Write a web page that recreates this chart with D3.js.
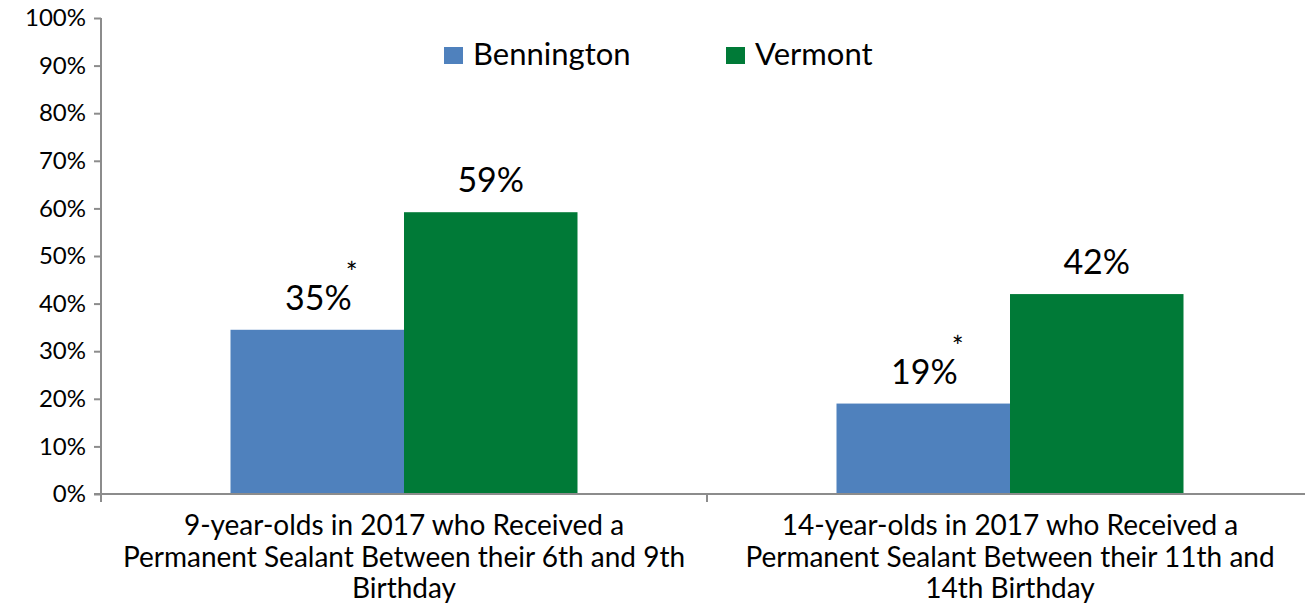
<!DOCTYPE html>
<html>
<head>
<meta charset="utf-8">
<script src="https://cdn.jsdelivr.net/npm/d3@7"></script>
<style>
  body { margin: 0; background: #fff; }
  text { font-family: "Lato", "Noto Sans", sans-serif; fill: #000; }
</style>
</head>
<body>
<svg id="main" width="1305" height="616"></svg>
<script>
const width = 1305;
const height = 616;
const position = { left: 101, top: 18, right: -8, bottom: 122 };
const innerWidth = width - position.left - position.right;
const innerHeight = height - position.top - position.bottom;

const categories = [
    ['9-year-olds in 2017 who Received a', 'Permanent Sealant Between their 6th and 9th', 'Birthday'],
    ['14-year-olds in 2017 who Received a', 'Permanent Sealant Between their 11th and', '14th Birthday']
];
const series = ['Bennington', 'Vermont'];
const colors = ['#4F81BD', '#007A37'];
const bennington = [0.345, 0.19];
const vermont = [0.592, 0.42];
const labels = [['35%', '59%'], ['19%', '42%']];
const asterisk = [[true, false], [true, false]];
const yTicks = [0, 0.1, 0.2, 0.3, 0.4, 0.5, 0.6, 0.7, 0.8, 0.9, 1.0];

const data = categories.map((c, i) => ({
    key: i,
    values: [bennington[i], vermont[i]]
}));

const svg = d3.select('#main');
const mainGroup = svg
    .append('g')
    .attr('transform', `translate(${position.left}, ${position.top})`);

const xScale = d3.scaleBand()
    .domain(data.map(d => d.key))
    .range([0, innerWidth]);

const groupWidth = 347;
const x1 = d3.scaleBand()
    .domain(d3.range(series.length))
    .range([(xScale.bandwidth() - groupWidth) / 2, (xScale.bandwidth() + groupWidth) / 2]);

const yScale = d3.scaleLinear()
    .domain([0, 1])
    .range([innerHeight, 0]);

// y axis
const yAxis = d3.axisLeft(yScale)
    .tickValues(yTicks)
    .tickFormat(d3.format('.0%'))
    .tickSize(7)
    .tickPadding(8);
const yG = mainGroup.append('g').attr('class', 'y-axis').call(yAxis);
yG.select('.domain').attr('stroke', '#8c8c8c').attr('stroke-width', 2).attr('d', `M0,0V${innerHeight}`);
yG.selectAll('.tick line').attr('stroke', '#8c8c8c').attr('stroke-width', 2);
yG.selectAll('.tick text').style('font-size', '24px').attr('fill', '#000');

// bars
const groups = mainGroup.selectAll('.cat')
    .data(data)
    .join('g')
    .attr('class', 'cat')
    .attr('transform', d => `translate(${xScale(d.key)}, 0)`);

groups.selectAll('rect')
    .data(d => d.values.map((v, j) => ({ v, j, i: d.key })))
    .join('rect')
    .attr('x', d => x1(d.j))
    .attr('width', x1.bandwidth())
    .attr('y', d => yScale(d.v))
    .attr('height', d => innerHeight - yScale(d.v))
    .attr('fill', d => colors[d.j]);

// value labels, with a raised asterisk where the reference marks one
const vals = groups.selectAll('.val')
    .data(d => d.values.map((v, j) => ({ v, j, i: d.key })))
    .join('text')
    .attr('class', 'val')
    .attr('x', d => x1(d.j) + x1.bandwidth() / 2 + (asterisk[d.i][d.j] ? 4 : 0))
    .attr('y', d => yScale(d.v) - 20)
    .attr('text-anchor', 'middle')
    .style('font-size', '34px');
vals.append('tspan').text(d => labels[d.i][d.j]);
vals.filter(d => asterisk[d.i][d.j])
    .append('tspan')
    .attr('dx', -6)
    .attr('dy', -27)
    .style('font-size', '28px')
    .text('*');

// x axis
const xG = mainGroup.append('g')
    .attr('class', 'x-axis')
    .attr('transform', `translate(0, ${innerHeight})`);
xG.append('line')
    .attr('x1', -7).attr('x2', innerWidth)
    .attr('stroke', '#8c8c8c').attr('stroke-width', 2);
xG.selectAll('.xtick')
    .data([0, 1, 2])
    .join('line')
    .attr('class', 'xtick')
    .attr('x1', d => d * xScale.step())
    .attr('x2', d => d * xScale.step())
    .attr('y1', 0).attr('y2', 8)
    .attr('stroke', '#8c8c8c').attr('stroke-width', 2);

xG.selectAll('.xlabel')
    .data(data)
    .join('text')
    .attr('class', 'xlabel')
    .attr('text-anchor', 'middle')
    .attr('transform', d => `translate(${xScale(d.key) + xScale.bandwidth() / 2}, 41)`)
    .style('font-size', '28px')
    .selectAll('tspan')
    .data(d => categories[d.key])
    .join('tspan')
    .attr('x', 0)
    .attr('y', (d, i) => i * 31.5)
    .text(d => d);

// legend
const legendX = [444, 726];
const legend = svg.selectAll('.legend')
    .data(series)
    .join('g')
    .attr('class', 'legend')
    .attr('transform', (d, i) => `translate(${legendX[i]}, 47)`);
legend.append('rect')
    .attr('width', 19).attr('height', 17)
    .attr('fill', (d, i) => colors[i]);
legend.append('text')
    .attr('x', 29).attr('y', 18)
    .style('font-size', '31px')
    .text(d => d);
</script>
</body>
</html>
